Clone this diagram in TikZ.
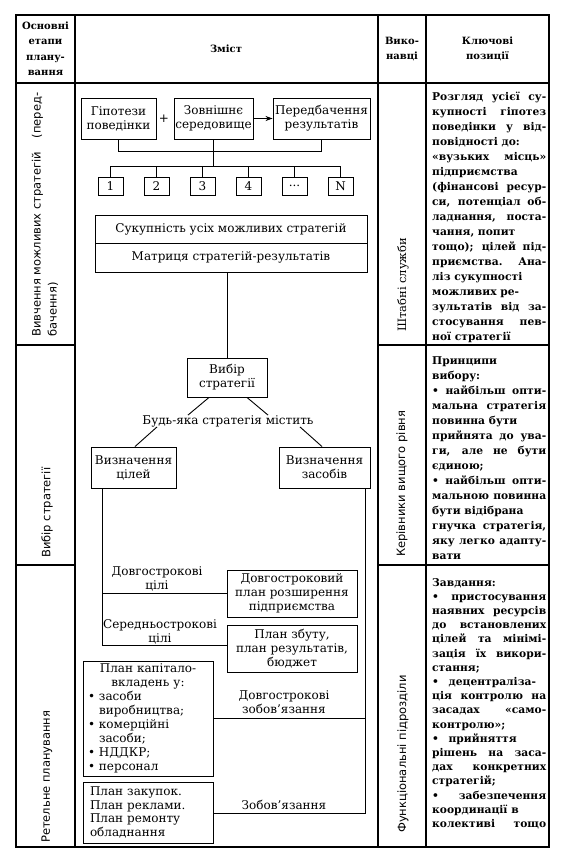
\documentclass[tikz,border=0pt]{standalone}
\usepackage{fontspec}
\setmainfont{DejaVu Serif}
\setsansfont{DejaVu Sans}
\usetikzlibrary{arrows.meta}
\newlength\colw \setlength\colw{114pt}
\newcommand\jline[1]{\hbox to \colw{#1}}
\newcommand\lline[1]{\hbox to \colw{#1\hfil}}
\newcommand\mainfs{\fontsize{12}{14}\selectfont}
\newcommand\hdrfs{\fontsize{10}{15.5}\selectfont\bfseries}
\newcommand\rotfs{\fontsize{11.5}{16}\selectfont\sffamily}
\newcommand\cfs{\fontsize{10.7}{15}\selectfont\bfseries}
\newcommand\mydots{...}
\begin{document}
\begin{tikzpicture}[x=1pt,y=-1pt,
  tbl/.style={line width=1.2pt},
  ln/.style={line width=0.9pt},
  box/.style={draw, line width=0.9pt, align=center, inner sep=0pt, font=\mainfs},
  lbl/.style={align=center, inner sep=0pt, font=\mainfs},
  rot/.style={rotate=90, inner sep=0pt, anchor=west, font=\rotfs},
  hdr/.style={align=center, inner sep=0pt, font=\hdrfs},
  c4/.style={inner sep=0pt, anchor=base west, font=\cfs}]
\useasboundingbox (0,0) rectangle (569,863);
\fill[white] (0,0) rectangle (569,863);
% table grid
\draw[tbl] (16,15) rectangle (549,847);
\draw[tbl] (75,15) -- (75,847);
\draw[tbl] (378,15) -- (378,847);
\draw[tbl] (426,15) -- (426,847);
\draw[tbl] (16,83) -- (549,83);
\draw[tbl] (16,345) -- (75,345);
\draw[tbl] (378,345) -- (549,345);
\draw[tbl] (16,565) -- (75,565);
\draw[tbl] (378,565) -- (549,565);
% header
\node[hdr] (h1) at (45.5,49) {Основні\\етапи\\плану-\\вання};
\node[hdr] (h2) at (226,49) {Зміст};
\node[hdr] (h3) at (402,49) {Вико-\\навці};
\node[hdr] (h4) at (487.5,49) {Ключові\\позиції};
% column 1 labels
\node[rot] (l1) at (45,337) {\vbox{\baselineskip=16pt\hbox to 244pt{Вивчення можливих стратегій\hfil(перед-}\hbox{бачення)}}};
\node[rot] (l2) at (47,558) {Вибір стратегії};
\node[rot] (l3) at (47,843) {Ретельне планування};
% column 3 labels
\node[rot, font=\fontsize{11.5}{14}\selectfont\rmfamily] (e1) at (403,332) {Штабні служби};
\node[rot] (e2) at (402,557) {Керівники вищого рівня};
\node[rot] (e3) at (403,833) {Функціональні підрозділи};
% content: top
\node[box, minimum width=75pt, minimum height=41pt] (hyp) at (118.5,118.5) {Гіпотези\\поведінки};
\node[lbl] (plus) at (164,119) {+};
\node[box, minimum width=79pt, minimum height=41pt] (env) at (213.5,118.5) {Зовнішнє\\середовище};
\node[box, minimum width=97pt, minimum height=41pt] (pred) at (321.5,118.5) {Передбачення\\результатів};
\draw[ln, -{Stealth[length=7pt,width=5pt]}] (env) -- (pred);
\draw[ln] (hyp.south) -- ++(0,12) -| (pred.south);
\foreach \i/\t/\x in {1/1/110.5, 2/2/156.5, 3/3/202.5, 4/4/248.5, 5/\mydots/294.5, 6/N/340.5}
  \node[box, minimum width=25pt, minimum height=18pt] (b\i) at (\x,186) {\t};
\coordinate (bus) at (213.5,166);
\draw[ln] (env.south) -- (bus);
\draw[ln] (b1.north |- bus) -- (b6.north |- bus);
\foreach \i in {1,2,3,4,5,6} \draw[ln] (b\i.north |- bus) -- (b\i.north);
\node[box, minimum width=272pt, minimum height=28pt] (s1) at (231,229) {Сукупність усіх можливих стратегій};
\node[box, minimum width=272pt, minimum height=29pt] (s2) at (231,257.5) {Матриця стратегій-результатів};
% choice
\node[box, minimum width=80pt, minimum height=39pt] (ch) at (227,377.5) {Вибір\\стратегії};
\draw[ln] (ch.north |- s2.south) -- (ch.north);
\node[lbl] (any) at (228,421) {Будь-яка стратегія містить};
\node[box, minimum width=85pt, minimum height=41pt] (goals) at (133.5,467.5) {Визначення\\цілей};
\node[box, minimum width=91pt, minimum height=41pt] (means) at (324.5,467.5) {Визначення\\засобів};
\draw[ln] ([xshift=-18pt]ch.south) -- ([xshift=-40pt]any.north);
\draw[ln] ([xshift=20pt]ch.south) -- ([xshift=40pt]any.north);
\draw[ln] ([xshift=-71pt]any.south) -- ([xshift=1.5pt]goals.north);
\draw[ln] ([xshift=72pt]any.south) -- ([xshift=-2.5pt]means.north);
% plans
\node[box, minimum width=130pt, minimum height=47pt] (ltp) at (292,593.5) {Довгостроковий\\план розширення\\підприємства};
\node[box, minimum width=130pt, minimum height=47pt] (sales) at (292,648.5) {План збуту,\\план результатів,\\бюджет};
\coordinate (lv) at (102,645);
\draw[ln] (lv |- goals.south) -- (lv) -- (lv -| sales.west);
\draw[ln] (ltp.west -| lv) -- (ltp.west);
\node[lbl] (ltg) at (157,579) {Довгострокові\\цілі};
\node[lbl] (mtg) at (160,632) {Середньострокові\\цілі};
\node[box, minimum width=130pt, minimum height=115pt, text width=120pt, inner xsep=5pt, align=left] (cap) at (148,718.5)
 {\centering План капітало-\\вкладень у:\par\raggedright
  \makebox[11pt][l]{•}засоби\\\hspace*{11pt}виробництва;\\
  \makebox[11pt][l]{•}комерційні\\\hspace*{11pt}засоби;\\
  \makebox[11pt][l]{•}НДДКР;\\
  \makebox[11pt][l]{•}персонал};
\node[box, minimum width=130pt, minimum height=61pt, text width=116pt, inner xsep=7pt, align=left, font=\fontsize{12}{13.5}\selectfont] (purch) at (148,812.5)
 {План закупок.\\План реклами.\\План ремонту\\обладнання};
\coordinate (rv) at (365,813);
\draw[ln] (rv |- means.south) -- (rv) -- (rv -| purch.east);
\draw[ln] (cap.east) -- (cap.east -| rv);
\node[lbl] (lto) at (284,702) {Довгострокові\\зобов'язання};
\node[lbl] (obl) at (284,805) {Зобов'язання};
% column 4
\node[c4] (k1) at (432,100) {\vtop{\baselineskip=15pt
\jline{Розгляд усієї су-}
\jline{купності гіпотез}
\jline{поведінки у від-}
\lline{повідності до:}
\jline{«вузьких місць»}
\lline{підприємства}
\jline{(фінансові ресур-}
\jline{си, потенціал об-}
\jline{ладнання, поста-}
\lline{чання, попит}
\jline{тощо); цілей під-}
\jline{приємства. Ана-}
\lline{ліз сукупності}
\lline{можливих ре-}
\jline{зультатів від за-}
\jline{стосування пев-}
\lline{ної стратегії}}};
\node[c4] (k2) at (432,364) {\vtop{\baselineskip=15pt
\lline{Принципи}
\lline{вибору:}
\jline{• найбільш опти-}
\jline{мальна стратегія}
\lline{повинна бути}
\jline{прийнята до ува-}
\jline{ги, але не бути}
\lline{єдиною;}
\jline{•\hspace{0.6em}найбільш опти-}
\jline{мальною повинна}
\lline{бути відібрана}
\jline{гнучка стратегія,}
\jline{яку легко адапту-}
\lline{вати}}};
\node[c4] (k3) at (432,586) {\vtop{\baselineskip=14.2pt
\lline{Завдання:}
\jline{• пристосування}
\jline{наявних ресурсів}
\jline{до встановлених}
\jline{цілей та мінімі-}
\jline{зація їх викори-}
\lline{стання;}
\lline{•\hspace{0.9em}децентраліза-}
\jline{ція контролю на}
\jline{засадах «само-}
\lline{контролю»;}
\lline{•\hspace{0.9em}прийняття}
\jline{рішень на заса-}
\jline{дах конкретних}
\lline{стратегій;}
\jline{• забезпечення}
\lline{координації в}
\jline{колективі тощо}}};
\end{tikzpicture}
\end{document}
